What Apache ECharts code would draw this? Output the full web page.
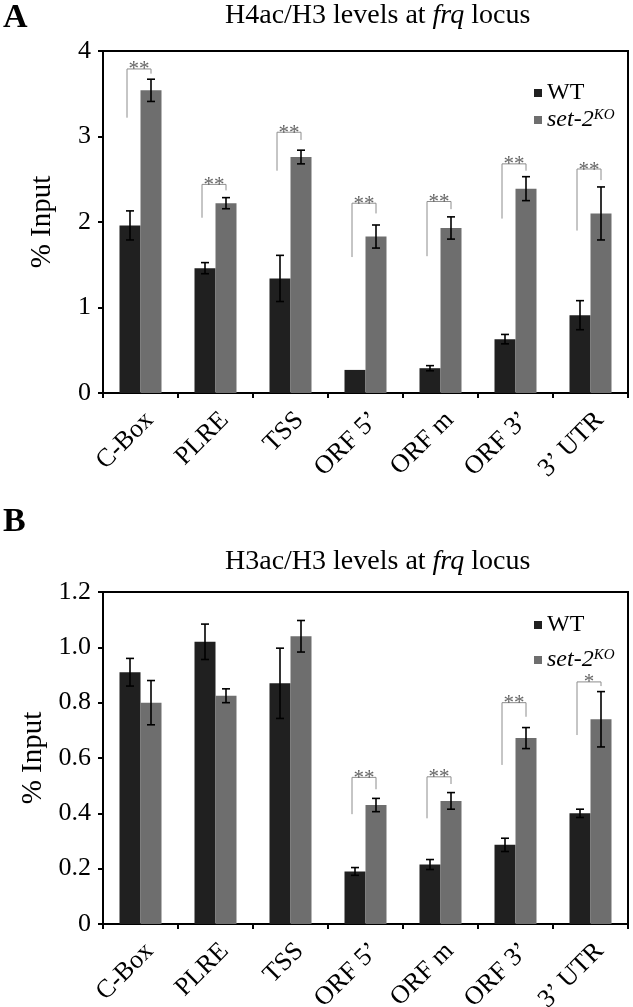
<!DOCTYPE html>
<html><head><meta charset="utf-8">
<script src="https://cdn.jsdelivr.net/npm/echarts@6/dist/echarts.min.js"></script>
<style>html,body{margin:0;padding:0;background:#fff}#c{width:633px;height:1007px}</style>
</head><body><div id="c"></div>
<script>
// ---- data ----
const categories = ['C-Box', 'PLRE', 'TSS', 'ORF 5\u2019', 'ORF m', 'ORF 3\u2019', '3\u2019 UTR'];
const seriesNames = ['WT', 'set-2KO'];

// Panel A: H4ac/H3
const h4WT    = [1.96, 1.46, 1.34, 0.27, 0.29, 0.63, 0.91];
const h4WTErr = [0.17, 0.065, 0.27, 0, 0.03, 0.055, 0.17];
const h4KO    = [3.54, 2.22, 2.76, 1.83, 1.93, 2.39, 2.10];
const h4KOErr = [0.13, 0.065, 0.08, 0.135, 0.13, 0.14, 0.31];
const h4BracketTop   = [3.79, 2.44, 3.05, 2.22, 2.24, 2.68, 2.62];
const h4BracketLeft  = [3.22, 2.05, 2.60, 1.59, 1.60, 2.04, 1.90];
const h4BracketRight = [3.735, 2.37, 2.96, 2.10, 2.15, 2.60, 2.49];
const h4Stars = ['**', '**', '**', '**', '**', '**', '**'];
const h4Ticks = [0, 1, 2, 3, 4];

// Panel B: H3ac/H3
const h3WT    = [0.91, 1.02, 0.87, 0.19, 0.215, 0.286, 0.40];
const h3WTErr = [0.05, 0.064, 0.127, 0.014, 0.018, 0.024, 0.015];
const h3KO    = [0.80, 0.825, 1.04, 0.43, 0.445, 0.672, 0.74];
const h3KOErr = [0.08, 0.025, 0.057, 0.024, 0.03, 0.038, 0.10];
const h3BracketTop   = [null, null, null, 0.530, 0.532, 0.80, 0.875];
const h3BracketLeft  = [null, null, null, 0.397, 0.382, 0.575, 0.683];
const h3BracketRight = [null, null, null, 0.487, 0.506, 0.749, 0.86];
const h3Stars = ['', '', '', '**', '**', '**', '*'];
const h3Ticks = [0, 0.2, 0.4, 0.6, 0.8, 1.0, 1.2];

// ---- styling ----
const FONT = 'Liberation Serif';
const BAR_W = 21;
const C_WT = '#202020';
const C_KO = '#6e6e6e';

const chart = echarts.init(document.getElementById('c'), null, {renderer: 'canvas'});

function errSeries(gi, vals, errs, side) {
  return {
    type: 'custom', xAxisIndex: gi, yAxisIndex: gi, silent: true, z: 5,
    data: vals.map((v, i) => [i, v, errs[i]]),
    renderItem(params, api) {
      const i = api.value(0), v = api.value(1), e = api.value(2);
      if (!e) return null;
      const t = api.coord([i, v + e]);
      const b = api.coord([i, v - e]);
      const x = t[0] + side * BAR_W / 2;
      const cw = 4;
      const st = {stroke: '#000', lineWidth: 1.6};
      return {type: 'group', children: [
        {type: 'line', shape: {x1: x, y1: t[1], x2: x, y2: b[1]}, style: st},
        {type: 'line', shape: {x1: x - cw, y1: t[1], x2: x + cw, y2: t[1]}, style: st},
        {type: 'line', shape: {x1: x - cw, y1: b[1], x2: x + cw, y2: b[1]}, style: st}
      ]};
    }
  };
}

function bracketSeries(gi, tops, lefts, rights, stars) {
  const data = [];
  tops.forEach((t, i) => { if (t != null) data.push([i, t, lefts[i], rights[i]]); });
  return {
    type: 'custom', xAxisIndex: gi, yAxisIndex: gi, silent: true, z: 6,
    data: data,
    renderItem(params, api) {
      const i = api.value(0);
      const c = api.coord([i, api.value(1)]);
      const l = api.coord([i, api.value(2)]);
      const r = api.coord([i, api.value(3)]);
      const xl = c[0] - BAR_W / 2 - 3;
      const xr = c[0] + BAR_W / 2;
      return {type: 'group', children: [
        {type: 'polyline', shape: {points: [[xl, l[1]], [xl, c[1]], [xr, c[1]], [xr, r[1]]]},
         style: {stroke: '#8c8c8c', lineWidth: 1, fill: null}},
        {type: 'text', style: {text: stars[i], x: (xl + xr) / 2, y: c[1] + 1,
          align: 'center', verticalAlign: 'middle', fontFamily: FONT, fontSize: 21, fill: '#666'}}
      ]};
    }
  };
}

function barSeries(gi, name, vals, color) {
  return {type: 'bar', name: name, xAxisIndex: gi, yAxisIndex: gi, data: vals,
    barWidth: BAR_W, barGap: '0%', itemStyle: {color: color}, z: 2};
}

const legendRich = {
  i: {fontFamily: FONT, fontSize: 24, fontStyle: 'italic', color: '#000'},
  s: {fontFamily: FONT, fontSize: 15, fontStyle: 'italic', color: '#000', verticalAlign: 'top', lineHeight: 15}
};
function legendFmt(n) { return n === 'WT' ? 'WT' : '{i|set-2}{s|KO}'; }
function mkLegend(top, gap) {
  return {data: seriesNames, orient: 'vertical', left: 534, top: top, itemWidth: 8, itemHeight: 8,
    itemGap: gap, icon: 'rect', padding: 0, formatter: legendFmt,
    textStyle: {fontFamily: FONT, fontSize: 24, color: '#000', rich: legendRich}};
}

function mkX(gi) {
  return {type: 'category', gridIndex: gi, data: categories,
    axisLine: {lineStyle: {color: '#000', width: 2}},
    axisTick: {show: true, length: 5, lineStyle: {color: '#000', width: 2}},
    axisLabel: {rotate: 45, margin: 14, verticalAlign: 'top', fontFamily: FONT, fontSize: 26, color: '#000', interval: 0}};
}
function mkY(gi, ticks, fmt, gap) {
  return {type: 'value', gridIndex: gi, min: ticks[0], max: ticks[ticks.length - 1],
    interval: ticks[1] - ticks[0],
    name: '% Input', nameLocation: 'middle', nameGap: gap, nameRotate: 90,
    nameTextStyle: {fontFamily: FONT, fontSize: 29, color: '#000'},
    splitLine: {show: false},
    axisLine: {show: true, lineStyle: {color: '#000', width: 2}},
    axisTick: {show: true, length: 5, lineStyle: {color: '#000', width: 2}},
    axisLabel: {margin: 12, fontFamily: FONT, fontSize: 26, color: '#000', formatter: fmt}};
}

const titleRich = {
  n: {fontFamily: FONT, fontSize: 28, color: '#000', fontWeight: 'normal'},
  i: {fontFamily: FONT, fontSize: 28, color: '#000', fontWeight: 'normal', fontStyle: 'italic'}
};

chart.setOption({
  animation: false,
  backgroundColor: '#fff',
  title: [
    {text: 'A', left: 3, top: 1, padding: 0, textStyle: {fontFamily: FONT, fontSize: 34, fontWeight: 'bold', color: '#000'}},
    {text: '{n|H4ac/H3 levels at }{i|frq}{n| locus}', left: 225, top: 2, padding: 0, textStyle: {fontWeight: 'normal', rich: titleRich}},
    {text: 'B', left: 3, top: 505, padding: 0, textStyle: {fontFamily: FONT, fontSize: 34, fontWeight: 'bold', color: '#000'}},
    {text: '{n|H3ac/H3 levels at }{i|frq}{n| locus}', left: 225, top: 548, padding: 0, textStyle: {fontWeight: 'normal', rich: titleRich}}
  ],
  legend: [mkLegend(81, 3), mkLegend(613, 11)],
  grid: [
    {left: 103, top: 51, width: 525, height: 342, show: true, borderColor: '#000', borderWidth: 2,
     backgroundColor: 'transparent', containLabel: false, outerBoundsMode: 'none'},
    {left: 103, top: 592, width: 525, height: 332, show: true, borderColor: '#000', borderWidth: 2,
     backgroundColor: 'transparent', containLabel: false, outerBoundsMode: 'none'}
  ],
  xAxis: [mkX(0), mkX(1)],
  yAxis: [
    mkY(0, h4Ticks, v => String(v), 46),
    mkY(1, h3Ticks, v => (v === 0 ? '0' : v.toFixed(1)), 50)
  ],
  series: [
    barSeries(0, 'WT', h4WT, C_WT),
    barSeries(0, 'set-2KO', h4KO, C_KO),
    errSeries(0, h4WT, h4WTErr, -1),
    errSeries(0, h4KO, h4KOErr, 1),
    bracketSeries(0, h4BracketTop, h4BracketLeft, h4BracketRight, h4Stars),
    barSeries(1, 'WT', h3WT, C_WT),
    barSeries(1, 'set-2KO', h3KO, C_KO),
    errSeries(1, h3WT, h3WTErr, -1),
    errSeries(1, h3KO, h3KOErr, 1),
    bracketSeries(1, h3BracketTop, h3BracketLeft, h3BracketRight, h3Stars)
  ]
});
</script>
</body></html>
